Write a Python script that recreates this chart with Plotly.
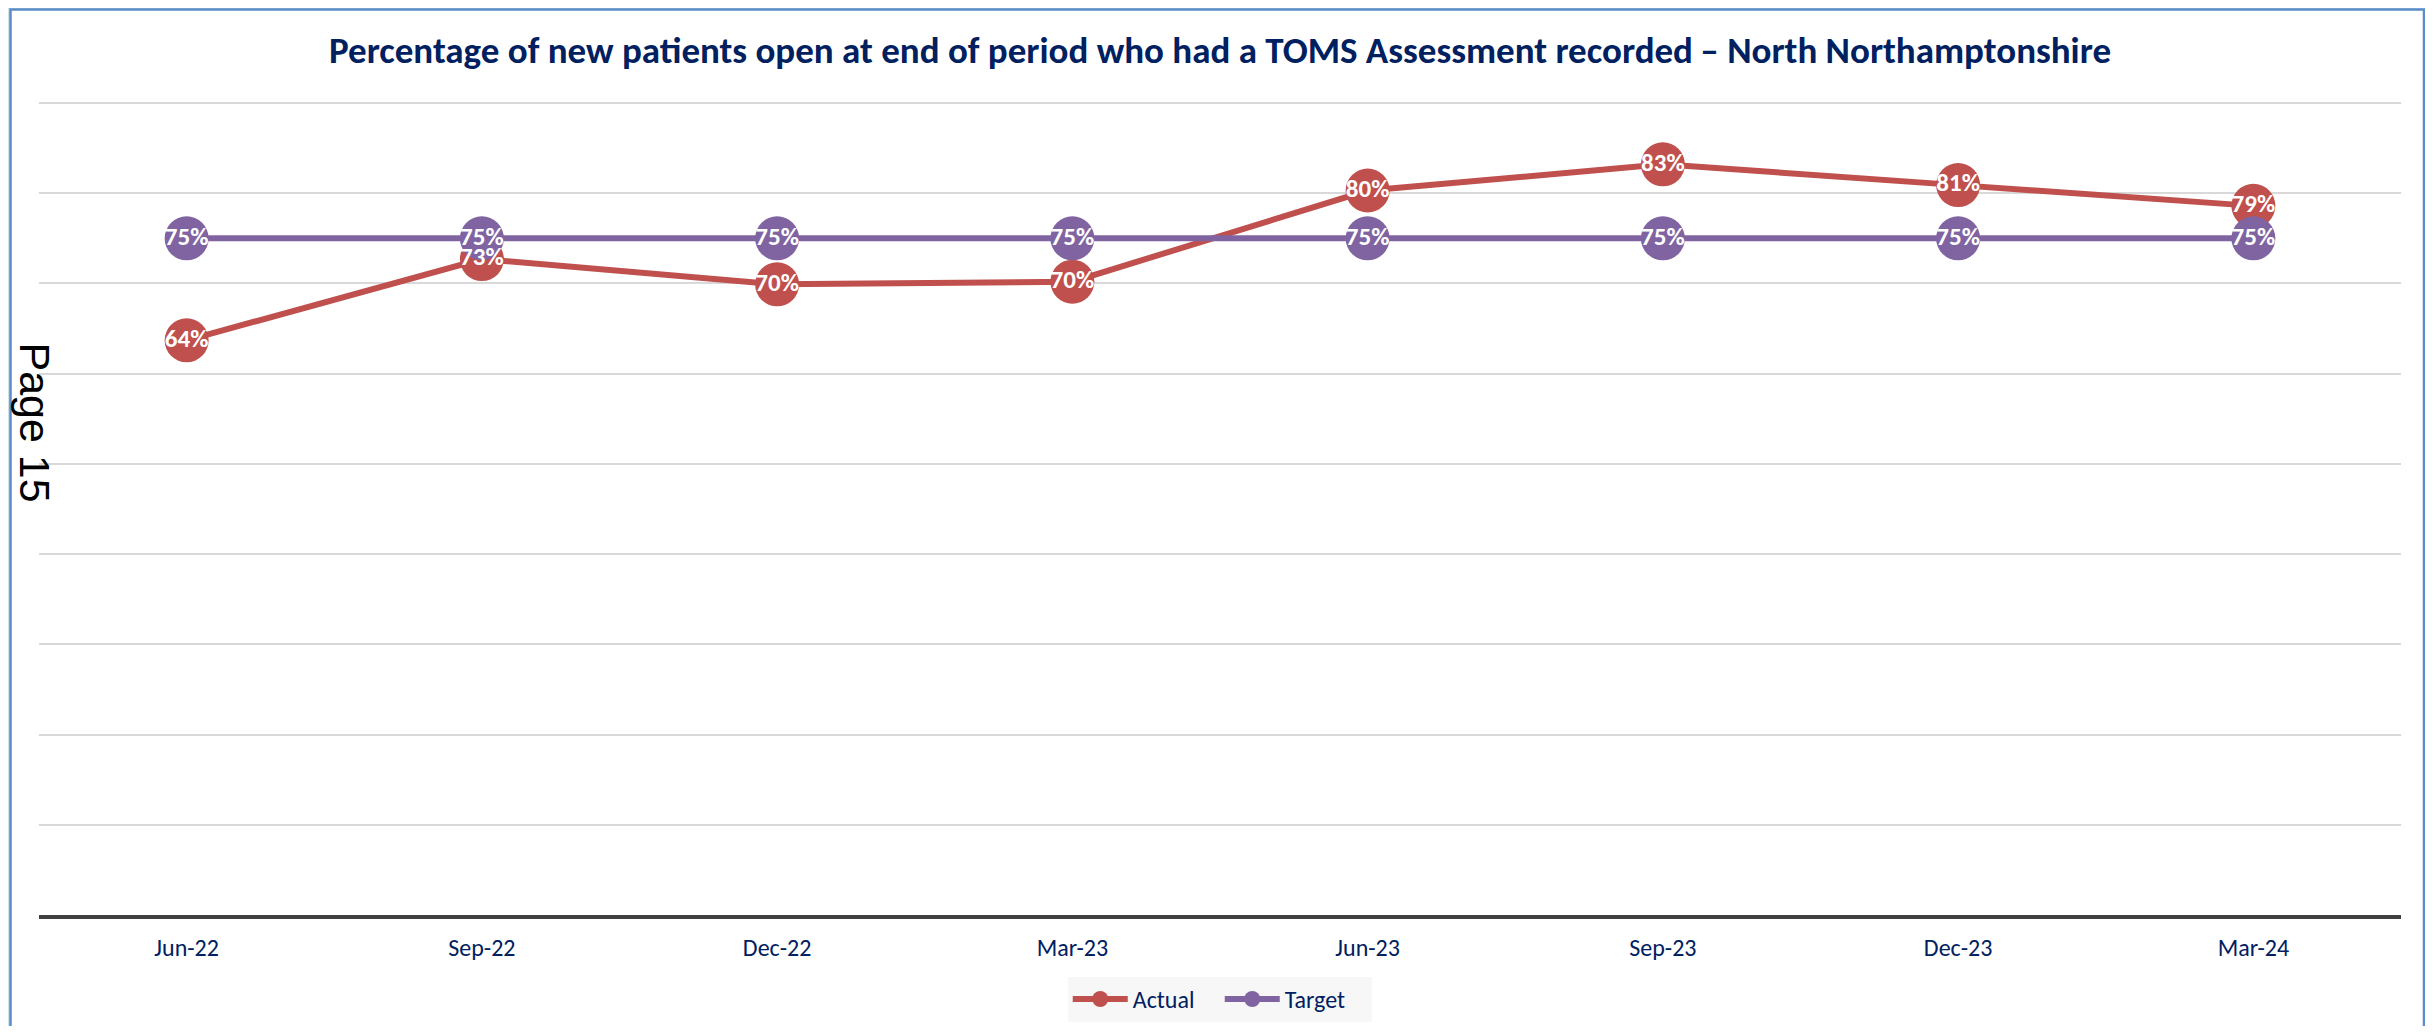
import plotly.graph_objects as go

# Data
periods = ["Jun-22", "Sep-22", "Dec-22", "Mar-23", "Jun-23", "Sep-23", "Dec-23", "Mar-24"]
actual = [0.637, 0.727, 0.699, 0.702, 0.803, 0.832, 0.809, 0.786]
target = [0.75, 0.75, 0.75, 0.75, 0.75, 0.75, 0.75, 0.75]

RED = "#C0504D"
PURPLE = "#8064A2"
NAVY = "#002060"
FONT = "Carlito, Calibri, 'Open Sans', sans-serif"

# page body has an 8px margin, so the figure is shrunk and everything is placed 8px up/left
OFF = 8
W, H = 2433 - 2 * OFF, 1034 - 2 * OFF
Y_TOP = 0.91           # a bit above the last gridline so it gets drawn
PX_PER_UNIT = (915.5 - 102.7) / 0.9
L = 38.5 - OFF
R = W - (2401 - OFF)
T = 102.7 - (Y_TOP - 0.9) * PX_PER_UNIT - OFF
B = H - (915.5 - OFF)
PW, PH = W - L - R, H - T - B


def px_x(p):
    # screen pixel -> paper x
    return (p - OFF - L) / PW


def px_y(p):
    # screen pixel -> paper y
    return (H - B - (p - OFF)) / PH


fig = go.Figure()

# lines + markers
fig.add_trace(go.Scatter(x=periods, y=actual, name="Actual", mode="lines+markers",
                         line=dict(color=RED, width=6),
                         marker=dict(color=RED, size=44)))
fig.add_trace(go.Scatter(x=periods, y=target, name="Target", mode="lines+markers",
                         line=dict(color=PURPLE, width=6),
                         marker=dict(color=PURPLE, size=44)))

# data labels drawn on top of every marker
for vals in (actual, target):
    fig.add_trace(go.Scatter(x=periods, y=vals, mode="text", showlegend=False,
                             text=[f"{v:.0%}" for v in vals],
                             textposition="middle center",
                             textfont=dict(color="white", size=25, family=FONT, weight="bold"),
                             hoverinfo="skip"))

# "Page 15" stamp on the left
fig.add_annotation(text="Page 15", textangle=90, showarrow=False,
                   xref="paper", yref="paper", x=px_x(34), y=px_y(422),
                   xanchor="center", yanchor="middle",
                   font=dict(family="Liberation Sans, Arial", size=43, color="black"))

# white chart area with blue frame
fig.add_shape(type="rect", xref="paper", yref="paper", layer="below",
              x0=px_x(10), x1=px_x(2424), y0=px_y(1060), y1=px_y(9),
              fillcolor="white", line=dict(color="#5B8CC8", width=2.5))

fig.update_layout(
    width=W, height=H,
    margin=dict(l=L, r=R, t=T, b=B, autoexpand=False),
    paper_bgcolor="#CFE1EB",
    plot_bgcolor="rgba(0,0,0,0)",
    title=dict(text="<b>Percentage of new patients open at end of period who had a TOMS Assessment recorded\u2009\u2013 North Northamptonshire</b>",
               x=(1220 - OFF) / W, xanchor="center", y=1 - (50 - OFF) / H, yanchor="middle",
               font=dict(family=FONT, size=37, color=NAVY)),
    showlegend=True,
    legend=dict(orientation="h", x=px_x(1219.5), xanchor="center",
                y=px_y(1000), yanchor="middle",
                bgcolor="#F7F7F7", borderwidth=0,
                font=dict(family=FONT, size=24, color=NAVY),
                itemwidth=55, entrywidth=82, traceorder="normal"),
    xaxis=dict(range=[-0.5, 7.5], showgrid=False, showline=True, linecolor="#404040",
               linewidth=4, ticks="", tickfont=dict(family=FONT, size=24, color=NAVY),
               ticklabelstandoff=8, fixedrange=True),
    yaxis=dict(range=[0, Y_TOP], tick0=0, dtick=0.1, showgrid=True, gridcolor="#D9D9D9",
               gridwidth=1.5, showticklabels=False, zeroline=False, fixedrange=True),
)

fig.write_html("out.html")
